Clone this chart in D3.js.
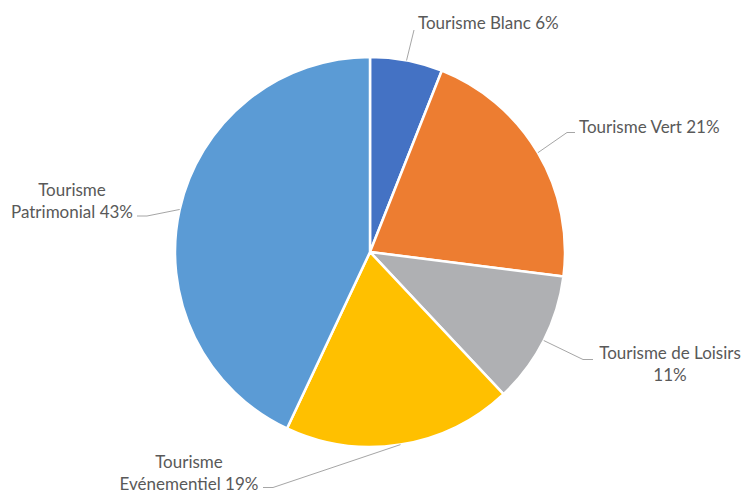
<!DOCTYPE html>
<html>
<head>
<meta charset="utf-8">
<script src="https://cdn.jsdelivr.net/npm/d3@7"></script>
<style>
  body { margin: 0; background: #fff; }
  text { font-family: Lato, "Open Sans", sans-serif; font-size: 17px; fill: #595959; }
</style>
</head>
<body>
<div id="chart"></div>
<script>
const width = 746;
const height = 495;

// data
const categories = ['Tourisme Blanc', 'Tourisme Vert', 'Tourisme de Loisirs', 'Tourisme Evénementiel', 'Tourisme Patrimonial'];
const values = [6, 21, 11, 19, 43];
const colors = ['#4472C4', '#ED7D31', '#AFB0B3', '#FFC000', '#5B9BD5'];
// label text lines (as shown in the picture)
const labelLines = [
  ['Tourisme Blanc 6%'],
  ['Tourisme Vert 21%'],
  ['Tourisme de Loisirs', '11%'],
  ['Tourisme', 'Evénementiel 19%'],
  ['Tourisme', 'Patrimonial 43%']
];

// label layout: text anchor point, elbow and end of the leader line
const labelLayout = [
  {x: 418, y: 29, anchor: 'start', elbow: [414, 30], end: [414, 30]},
  {x: 579, y: 133, anchor: 'start', elbow: [567, 132.5], end: [575, 132.5]},
  {x: 670, y: 359, anchor: 'middle', elbow: [583, 359.5], end: [593, 359.5]},
  {x: 189, y: 468, anchor: 'middle', elbow: [273, 487.5], end: [263, 487.5]},
  {x: 72, y: 196, anchor: 'middle', elbow: [147, 216], end: [137, 216]}
];

const cx = 370, cy = 252, radius = 195;

const svg = d3.select('#chart').append('svg')
  .attr('width', width)
  .attr('height', height);

const slices = d3.pie().sort(null).value(d => d)(values);
const arc = d3.arc().innerRadius(0).outerRadius(radius);

const g = svg.append('g').attr('transform', `translate(${cx},${cy})`);

g.selectAll('path')
  .data(slices)
  .join('path')
    .attr('d', arc)
    .attr('fill', (d, i) => colors[i])
    .attr('stroke', '#fff')
    .attr('stroke-width', 2.5)
    .attr('stroke-linejoin', 'round');

// leader lines from the middle of each slice's outer edge
slices.forEach((d, i) => {
  const a = (d.startAngle + d.endAngle) / 2;
  const p0 = [cx + radius * Math.sin(a), cy - radius * Math.cos(a)];
  const L = labelLayout[i];
  svg.append('polyline')
    .attr('points', [p0, L.elbow, L.end].map(p => p.join(',')).join(' '))
    .attr('fill', 'none')
    .attr('stroke', '#A6A6A6')
    .attr('stroke-width', 1);

  const t = svg.append('text')
    .attr('x', L.x)
    .attr('y', L.y)
    .attr('text-anchor', L.anchor);
  labelLines[i].forEach((line, j) => {
    t.append('tspan')
      .attr('x', L.x)
      .attr('dy', j === 0 ? 0 : 22)
      .text(line);
  });
});
</script>
</body>
</html>
